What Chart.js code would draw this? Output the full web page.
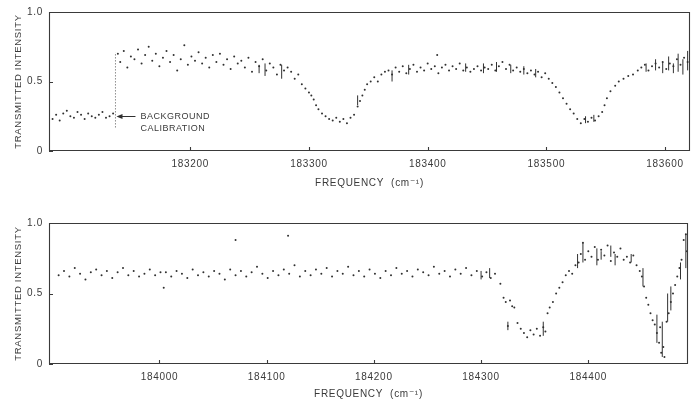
<!DOCTYPE html>
<html><head><meta charset="utf-8">
<script src="https://cdn.jsdelivr.net/npm/chart.js@4"></script>
<style>
html,body{margin:0;padding:0;background:#fff;width:697px;height:404px;overflow:hidden}
.box{position:absolute;left:0;width:697px}
#b1{top:0;height:200px}
#b2{top:200px;height:204px}
</style></head><body>
<div class="box" id="b1"><canvas id="c1"></canvas></div>
<div class="box" id="b2"><canvas id="c2"></canvas></div>
<script>
// ---------- DATA ----------
const yTicks = [0, 0.5, 1.0];
const topTicks = [183200, 183300, 183400, 183500, 183600];
const bottomTicks = [184000, 184100, 184200, 184300, 184400];
const yTitle = 'TRANSMITTED INTENSITY';
const xTitle = 'FREQUENCY  (cm\u207B\u00B9)';
const calibLabel = ['BACKGROUND', 'CALIBRATION'];
const calibFreq = 183137;
const calibRange = [0.17, 0.71];

const topFreq = [
183084,183087,183090,183093,183096,183099,183102,183105,183108,183111,
183114,183117,183120,183123,183126,183129,183132,183135,
183139,183141,183144,183147,183150,183153,183156,183159,183162,183165,
183168,183171,183174,183177,183180,183183,183186,183189,183192,183195,
183198,183201,183204,183207,183210,183213,183216,183219,183222,183225,
183228,183231,183234,183237,183240,183243,183246,183249,183252,183255,
183258,183261,183264,183267,183270,183273,183276,183279,183282,183285,
183288,183291,183294,183297,183300,183302,183304,183306,183308,183311,
183314,183317,183320,183323,183326,183329,183332,183335,183338,183341,
183343,183345,183347,183349,183352,183355,183358,183361,183364,
183367,183370,183373,183376,183379,183382,183385,183388,183391,183394,
183397,183400,183403,183406,183408,183409,183412,183415,183418,183421,
183424,183427,183430,183433,183436,183439,183442,183445,183448,183451,
183454,183457,183460,183463,183466,183469,183472,183475,183478,183481,
183484,183487,183490,183493,183496,183499,183502,
183505,183508,183511,183514,183517,183520,183523,183526,183529,183532,
183535,183538,183541,183544,183547,183549,183551,183554,183558,183561,
183565,183569,183573,183577,
183580,183583,183586,183589,183592,183595,183598,183601,183604,183607,
183610,183613,183616,183619
];
const topIntensity = [
0.23,0.26,0.22,0.27,0.29,0.25,0.24,0.28,0.26,0.23,
0.27,0.25,0.24,0.26,0.28,0.24,0.25,0.27,
0.70,0.64,0.72,0.60,0.68,0.66,0.73,0.63,0.69,0.75,
0.65,0.70,0.61,0.67,0.72,0.64,0.69,0.58,0.66,0.76,
0.62,0.68,0.65,0.71,0.63,0.67,0.60,0.69,0.64,0.70,
0.62,0.66,0.59,0.68,0.63,0.65,0.60,0.67,0.57,0.64,
0.61,0.66,0.58,0.63,0.60,0.55,0.62,0.58,0.60,0.57,
0.52,0.55,0.48,0.45,0.42,0.40,0.37,0.33,0.30,0.27,
0.25,0.23,0.22,0.24,0.21,0.23,0.20,0.24,0.26,0.32,
0.36,0.40,0.44,0.48,0.50,0.53,0.50,0.55,0.57,
0.58,0.55,0.60,0.57,0.61,0.56,0.59,0.62,0.57,0.60,
0.58,0.63,0.59,0.61,0.69,0.56,0.60,0.62,0.58,0.61,
0.59,0.63,0.58,0.60,0.57,0.59,0.61,0.58,0.60,0.59,
0.62,0.58,0.61,0.64,0.59,0.62,0.58,0.60,0.57,0.59,
0.56,0.58,0.55,0.57,0.53,0.56,0.52,
0.49,0.46,0.42,0.38,0.34,0.30,0.27,0.23,0.20,0.23,
0.21,0.24,0.22,0.25,0.28,0.33,0.38,0.43,0.47,0.50,
0.52,0.54,0.55,0.58,
0.60,0.62,0.58,0.61,0.63,0.60,0.64,0.59,0.63,0.61,
0.66,0.62,0.67,0.64
];
// short vertical noise strokes seen in the trace
const topStrokeFreq = [183258, 183263, 183277, 183341, 183370, 183384, 183432, 183447, 183458, 183470, 183481, 183491, 183533, 183540, 183584, 183592, 183598, 183603, 183607, 183611, 183615, 183619];
const topStrokeLow  = [0.56, 0.54, 0.52, 0.33, 0.50, 0.55, 0.57, 0.56, 0.57, 0.56, 0.55, 0.53, 0.20, 0.21, 0.57, 0.58, 0.56, 0.58, 0.56, 0.57, 0.55, 0.58];
const topStrokeHigh = [0.62, 0.63, 0.62, 0.40, 0.58, 0.62, 0.63, 0.63, 0.64, 0.62, 0.61, 0.59, 0.25, 0.26, 0.63, 0.66, 0.64, 0.68, 0.63, 0.70, 0.66, 0.72];

const bottomFreq = [
183906,183911,183916,183921,183926,183931,183936,183941,183946,183951,
183956,183961,183966,183971,183976,183981,183986,183991,183996,184001,
184004,184006,184011,184016,184021,184026,184031,184036,184041,184046,
184051,184056,184061,184066,184071,184071,184076,184081,184086,184091,
184096,184101,184106,184111,184116,184120,184121,184126,184131,184136,
184141,184146,184151,184156,184161,184166,184171,184176,184181,184186,
184191,184196,184201,184206,184211,184216,184221,184226,184231,184236,
184241,184246,184251,184256,184261,184266,184271,184276,184281,184286,
184291,184296,184301,184305,184309,184313,
184318,184321,184323,184325,184327,184329,184331,184334,184337,184340,
184343,184346,184349,184352,184355,184358,184360,184362,184364,184367,
184370,184373,184376,184379,184382,184385,184388,184391,184393,184395,
184397,184400,184403,184406,184409,184412,184415,184418,184421,184424,
184427,184430,184433,184436,184439,184442,184445,184448,184450,184452,
184454,184456,184458,184460,184462,184464,184466,184467,184468,184470,
184471,184473,184475,184477,184479,184481,184483,184485,184487,184489,
184491,184492
];
const bottomIntensity = [
0.63,0.66,0.62,0.68,0.64,0.60,0.65,0.67,0.63,0.66,
0.61,0.65,0.68,0.63,0.66,0.62,0.64,0.67,0.63,0.65,
0.54,0.65,0.62,0.66,0.64,0.61,0.67,0.63,0.65,0.62,
0.66,0.64,0.60,0.67,0.63,0.88,0.66,0.62,0.65,0.69,
0.64,0.61,0.66,0.63,0.67,0.91,0.64,0.70,0.62,0.66,
0.63,0.67,0.64,0.68,0.62,0.66,0.64,0.69,0.63,0.66,
0.62,0.67,0.64,0.61,0.66,0.63,0.68,0.64,0.66,0.62,
0.67,0.65,0.63,0.69,0.64,0.66,0.62,0.67,0.64,0.68,
0.63,0.66,0.62,0.65,0.61,0.64,
0.57,0.47,0.44,0.27,0.45,0.41,0.40,0.29,0.25,0.22,
0.19,0.24,0.21,0.25,0.20,0.26,0.23,0.36,0.40,0.44,
0.50,0.54,0.58,0.63,0.66,0.64,0.70,0.72,0.78,0.86,
0.74,0.80,0.76,0.83,0.74,0.81,0.77,0.84,0.73,0.79,
0.76,0.82,0.74,0.76,0.72,0.77,0.70,0.66,0.62,0.55,
0.47,0.42,0.36,0.31,0.28,0.22,0.15,0.26,0.08,0.12,
0.05,0.30,0.36,0.44,0.50,0.56,0.62,0.68,0.74,0.88,
0.92,0.80
];
const bottomStrokeFreq = [184300, 184308, 184325, 184358, 184390, 184395, 184408, 184412, 184421, 184425, 184440, 184451, 184464, 184469, 184474, 184477, 184486, 184491];
const bottomStrokeLow  = [0.60, 0.61, 0.24, 0.20, 0.68, 0.72, 0.70, 0.74, 0.76, 0.70, 0.72, 0.55, 0.15, 0.05, 0.30, 0.38, 0.60, 0.68];
const bottomStrokeHigh = [0.66, 0.68, 0.30, 0.30, 0.78, 0.86, 0.82, 0.80, 0.84, 0.78, 0.78, 0.68, 0.35, 0.30, 0.50, 0.55, 0.72, 0.92];

// ---------- STYLE / CHART ----------
const INK = '#303030';
const TXT = '#3a3a3a';
const FONT = "'Liberation Sans', 'DejaVu Sans', sans-serif";

const pts = (fx, fy) => fx.map((f, i) => ({x: f, y: fy[i]}));
const strokes = (fx, lo, hi) => {
  const out = [];
  fx.forEach((f, i) => { out.push({x: f, y: lo[i]}, {x: f, y: hi[i]}, {x: f, y: null}); });
  return out;
};

const framePlugin = {
  id: 'frame',
  beforeDraw(chart) { chart.ctx.letterSpacing = '0.7px'; },
  afterDatasetsDraw(chart) {
    const {ctx, chartArea: a, scales: {x, y}} = chart;
    ctx.save();
    ctx.strokeStyle = '#3a3a3a';
    ctx.lineWidth = 1.1;
    ctx.beginPath();
    ctx.rect(a.left + 0.5, a.top + 0.5, a.right - a.left - 1, a.bottom - a.top - 1);
    x.ticks.forEach(t => {
      const px = Math.round(x.getPixelForValue(t.value)) + 0.5;
      ctx.moveTo(px, a.bottom); ctx.lineTo(px, a.bottom - 4);
    });
    y.ticks.forEach(t => {
      const py = Math.round(y.getPixelForValue(t.value)) + 0.5;
      ctx.moveTo(a.left, py); ctx.lineTo(a.left + 4, py);
    });
    ctx.stroke();
    ctx.restore();
  }
};

const calibPlugin = {
  id: 'calib',
  afterDatasetsDraw(chart, args, opts) {
    if (!opts || !opts.show) return;
    const {ctx, scales: {x, y}} = chart;
    const tipX = x.getPixelForValue(calibFreq) + 1;
    const py = Math.round(y.getPixelForValue(0.25)) + 0.5;
    const tailX = tipX + 19;
    ctx.save();
    ctx.strokeStyle = INK; ctx.fillStyle = INK; ctx.lineWidth = 1;
    ctx.beginPath(); ctx.moveTo(tipX + 4, py); ctx.lineTo(tailX, py); ctx.stroke();
    ctx.beginPath(); ctx.moveTo(tipX, py); ctx.lineTo(tipX + 6, py - 2.5); ctx.lineTo(tipX + 6, py + 2.5); ctx.closePath(); ctx.fill();
    ctx.letterSpacing = '0.5px';
    ctx.fillStyle = TXT;
    ctx.font = '9px ' + FONT;
    ctx.textBaseline = 'middle';
    ctx.fillText(calibLabel[0], tailX + 5, py);
    ctx.fillText(calibLabel[1], tailX + 5, py + 12);
    ctx.restore();
  }
};

function makeChart(id, cfg) {
  return new Chart(document.getElementById(id), {
    type: 'scatter',
    data: {datasets: cfg.datasets},
    options: {
      responsive: true, maintainAspectRatio: false, animation: false,
      devicePixelRatio: 1,
      events: [],
      layout: {padding: {left: 0, right: cfg.padRight, top: cfg.padTop, bottom: 0}},
      plugins: {legend: {display: false}, tooltip: {enabled: false}, calib: {show: !!cfg.calib}},
      scales: {
        x: {
          type: 'linear', min: cfg.xMin, max: cfg.xMax,
          afterBuildTicks: s => { s.ticks = cfg.ticks.map(v => ({value: v})); },
          afterFit: s => { s.height = cfg.xAxisH; },
          grid: {display: false, drawTicks: false},
          border: {display: false},
          ticks: {padding: 7, color: TXT, font: {family: FONT, size: 10}, maxRotation: 0, autoSkip: false,
                  callback: v => String(v)},
          title: {display: true, text: xTitle, color: TXT, font: {family: FONT, size: 10},
                  padding: {top: 0, bottom: cfg.xTitlePad}}
        },
        y: {
          type: 'linear', min: 0, max: 1,
          afterBuildTicks: s => { s.ticks = yTicks.map(v => ({value: v})); },
          afterFit: s => { s.width = 49; },
          grid: {display: false, drawTicks: false},
          border: {display: false},
          ticks: {padding: 6, color: TXT, font: {family: FONT, size: 10},
                  callback: v => v === 0 ? '0' : v.toFixed(1)},
          title: {display: true, text: yTitle, color: TXT, font: {family: FONT, size: 9.5},
                  padding: {top: 13, bottom: 0}}
        }
      }
    },
    plugins: [framePlugin, calibPlugin]
  });
}

const dotStyle = {showLine: false, pointRadius: 1.0, pointBackgroundColor: INK, pointBorderWidth: 0};
const strokeStyle = {showLine: true, spanGaps: false, pointRadius: 0, borderColor: INK, borderWidth: 1};

makeChart('c1', {
  xMin: 183081, xMax: 183621, ticks: topTicks, padTop: 10, padRight: 7, xAxisH: 49, xTitlePad: 11, calib: true,
  datasets: [
    Object.assign({data: pts(topFreq, topIntensity)}, dotStyle),
    Object.assign({data: strokes(topStrokeFreq, topStrokeLow, topStrokeHigh)}, strokeStyle),
    {data: pts([calibFreq, calibFreq], calibRange), showLine: true, pointRadius: 0,
     borderColor: '#555', borderWidth: 1, borderDash: [1, 2]}
  ]
});

makeChart('c2', {
  xMin: 183897, xMax: 184493, ticks: bottomTicks, padTop: 23, padRight: 9, xAxisH: 40, xTitlePad: 4, calib: false,
  datasets: [
    Object.assign({data: pts(bottomFreq, bottomIntensity)}, dotStyle),
    Object.assign({data: strokes(bottomStrokeFreq, bottomStrokeLow, bottomStrokeHigh)}, strokeStyle)
  ]
});
</script>
</body></html>
